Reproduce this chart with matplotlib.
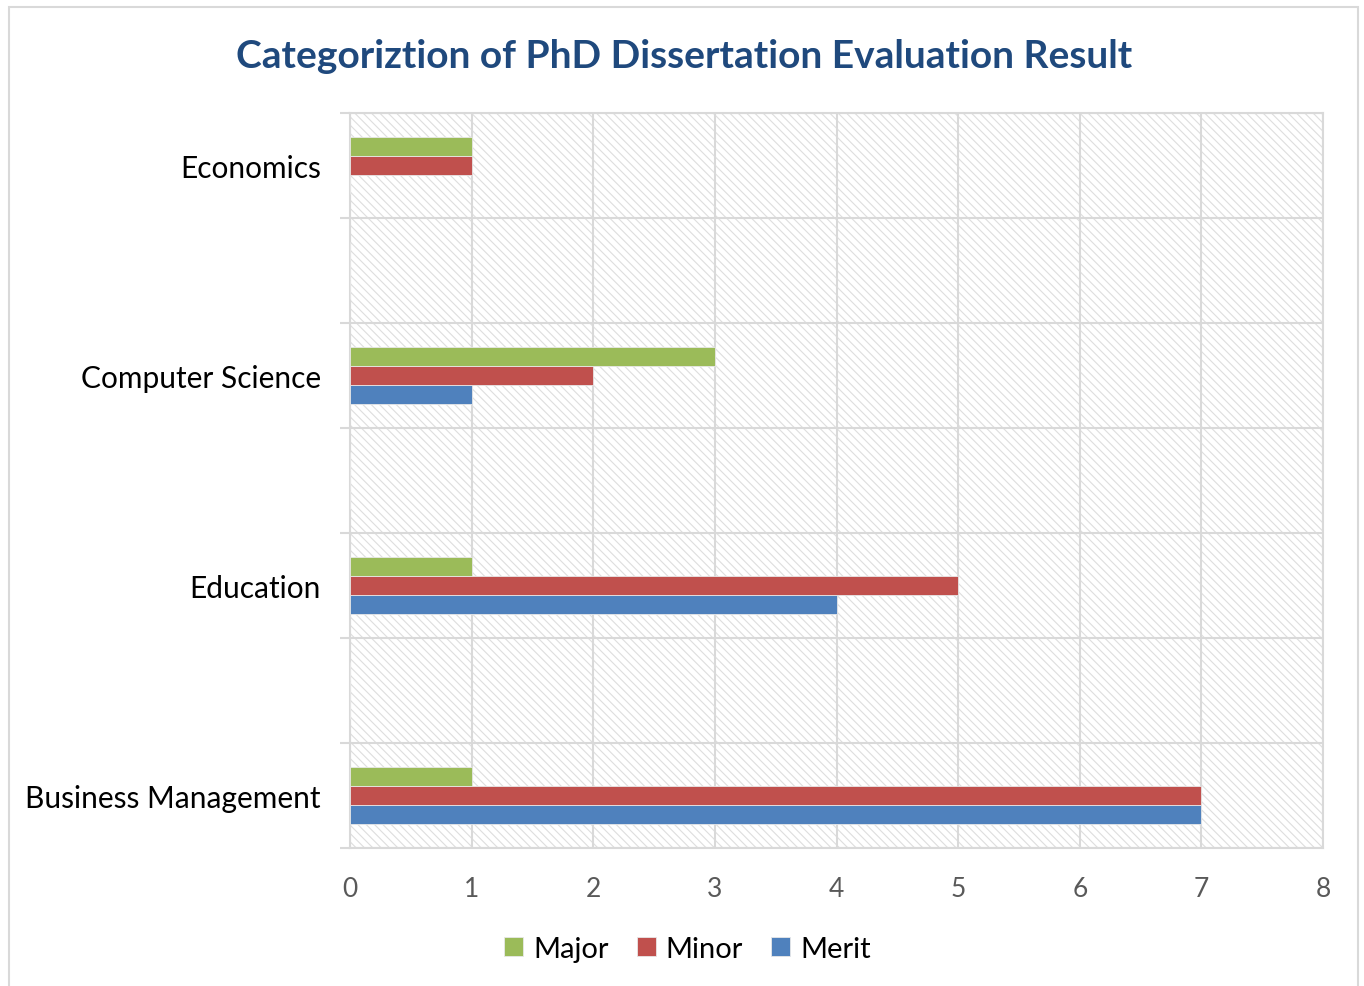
import numpy as np
import matplotlib.pyplot as plt
from matplotlib.patches import Rectangle

plt.rcParams['font.family'] = ['Lato', 'DejaVu Sans']
plt.rcParams['hatch.linewidth'] = 0.8
plt.rcParams['hatch.color'] = '#dedede'

# ── data ──
categories = ["Business Management", "", "Education", "", "Computer Science", "", "Economics"]
merit = [7, 0, 4, 0, 1, 0, 0]
minor = [7, 0, 5, 0, 2, 0, 1]
major = [1, 0, 1, 0, 3, 0, 1]
x_ticks = [0, 1, 2, 3, 4, 5, 6, 7, 8]

series = [("Merit", merit, "#4F81BD"),
          ("Minor", minor, "#C0504D"),
          ("Major", major, "#9BBB59")]

fig = plt.figure(figsize=(13.64, 9.87), dpi=100)
ax = fig.add_axes([350 / 1364, 1 - 849 / 987, 973 / 1364, 735 / 987])

# outer chart border
fig.add_artist(Rectangle((9 / 1364, -0.01), 1349 / 1364, 1 - 8 / 987 + 0.01,
                         transform=fig.transFigure, fill=False,
                         edgecolor='#d9d9d9', linewidth=1.5))

# hatched plot area
ax.add_patch(Rectangle((0, 0), 1, 1, transform=ax.transAxes, facecolor='white',
                       edgecolor='#dedede', linewidth=0, hatch='\\\\\\\\', zorder=0.5))

y = np.arange(len(categories))
bh = 0.181
for i, (name, vals, col) in enumerate(series):
    ax.barh(y + (i - 1) * bh, vals, height=bh, color=col, label=name,
            edgecolor='#e8e8e8', linewidth=0.6, zorder=3)

ax.set_xlim(0, 8)
ax.set_ylim(-0.5, len(categories) - 0.5)
ax.set_xticks(x_ticks)
ax.set_xticklabels([str(v) for v in x_ticks])
ax.tick_params(axis='x', length=0, pad=20, labelsize=19, labelcolor='#595959')

bounds = np.arange(len(categories) + 1) - 0.5
ax.set_yticks(bounds)
ax.set_yticklabels([])
ax.tick_params(axis='y', which='major', length=7.5, color='#d9d9d9', width=1.5)
ax.set_yticks(y, minor=True)
ax.set_yticklabels(categories, minor=True)
ax.tick_params(axis='y', which='minor', length=0, pad=21, labelsize=21.5)

ax.grid(True, which='major', color='#d9d9d9', linewidth=1.5, zorder=1)
ax.set_axisbelow(True)
for s in ax.spines.values():
    s.set_color('#d9d9d9')
    s.set_linewidth(1.5)

fig.text(0.5015, 1 - 57 / 987, "Categoriztion of PhD Dissertation Evaluation Result",
         ha='center', va='center', fontsize=28, fontweight='bold', color='#1F497D')

handles, labels = ax.get_legend_handles_labels()
fig.legend(handles[::-1], labels[::-1], loc='center', bbox_to_anchor=(0.504, 1 - 950 / 987),
           ncol=3, frameon=False, fontsize=21, handlelength=0.65, handleheight=0.65,
           handletextpad=0.35, columnspacing=0.95)

fig.savefig("out.png", dpi=100)
